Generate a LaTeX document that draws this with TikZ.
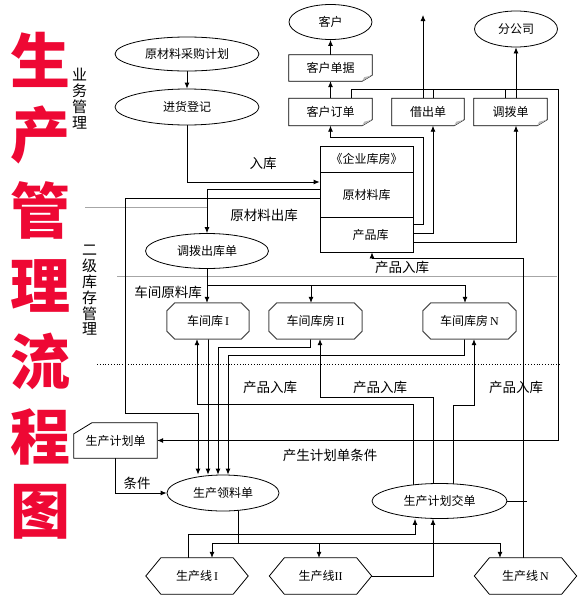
\documentclass[tikz,border=0pt]{standalone}
\usepackage{fontspec}
\newfontfamily\cjk{Noto Sans CJK SC}
\newfontfamily\romfont{Liberation Serif}
\usetikzlibrary{shapes.geometric,arrows.meta}
\pgfdeclarelayer{bg}
\pgfdeclarelayer{shp}
\pgfsetlayers{bg,shp,main}
\definecolor{titlered}{RGB}{238,8,52}
\newcommand{\rn}[1]{{\romfont #1}}
\tikzset{
  oval/.style={ellipse, draw, fill=white, line width=0.8pt, inner sep=0pt, font=\cjk\fontsize{12}{14}\selectfont},
  plain/.style={inner sep=0pt, font=\cjk\fontsize{12}{14}\selectfont},
  docbox/.style={plain, minimum width=#1, minimum height=27},
  kubox/.style={plain, minimum width=#1, minimum height=36},
  hexbox/.style={plain, minimum width=102, minimum height=36},
  lbl/.style={inner sep=0pt, font=\cjk\fontsize{13.5}{15}\selectfont},
  side/.style={inner sep=0pt, align=center, font=\cjk\fontsize{15}{15.8}\selectfont},
  title/.style={inner sep=0pt, text=titlered, font=\cjk\bfseries\fontsize{60}{60}\selectfont},
  conn/.style={line width=0.8pt},
  sepline/.style={line width=0.6pt, gray!70},
  >={Latex[length=6pt,width=5pt]}
}
\begin{document}
\begin{tikzpicture}[x=1pt,y=-1pt]
\useasboundingbox (0,0) rectangle (586,603);
% title and side labels
\foreach \tch [count=\i from 0] in {生,产,管,理,流,程,图}
  \node[title] (t\i) at (40,60+75.3*\i) {\tch};
\node[side] (sideA) at (79.5,98.5) {业\\务\\管\\理};
\node[side] (sideB) at (89.5,290.5) {二\\级\\库\\存\\管\\理};
% top part
\node[oval, minimum width=144, minimum height=34] (yclcg) at (187,54) {原材料采购计划};
\node[oval, minimum width=144, minimum height=36] (jhdj) at (187,107) {进货登记};
\node[oval, minimum width=83, minimum height=35] (kehu) at (330.5,22) {客户};
\node[oval, minimum width=83, minimum height=36] (fengs) at (516,29) {分公司};
\node[docbox=83, minimum height=26] (khdj) at (330.5,68) {客户单据};
\node[docbox=83] (khdd) at (330.5,112) {客户订单};
\node[docbox=72] (jcd) at (428,112) {借出单};
\node[docbox=73] (dbd) at (510.5,112) {调拨单};
% warehouse
\node[plain, draw, fill=white, line width=0.8pt, minimum width=93, minimum height=26] (kuTop) at (366.5,159) {《企业库房》};
\node[plain, draw, fill=white, line width=0.8pt, minimum width=93, minimum height=45] (kuRaw) at (366.5,194.5) {原材料库};
\node[plain, draw, fill=white, line width=0.8pt, minimum width=93, minimum height=35] (kuProd) at (366.5,234.5) {\hspace*{8pt}产品库};
\node[oval, minimum width=123, minimum height=35] (dbck) at (207,251) {调拨出库单};
% workshop stores
\node[kubox=82] (cjI) at (208,321) {车间库\,\rn{I}};
\node[kubox=93] (cjII) at (315.5,321) {车间库房\,\rn{II}};
\node[kubox=93] (cjN) at (469.5,321) {车间库房\,\rn{N}};
% production
\node[plain, minimum width=83, minimum height=35] (scjh) at (115.5,440.5) {生产计划单};
\node[oval, minimum width=112, minimum height=36] (scll) at (223,493) {生产领料单};
\node[oval, minimum width=135, minimum height=35] (scjhj) at (439.5,501) {生产计划交单};
\node[hexbox] (scxI) at (197,576) {生产线\,\rn{I}};
\node[hexbox] (scxII) at (320.5,576) {生产线\rn{II}};
\node[hexbox] (scxN) at (525.5,576) {生产线\,\rn{N}};
% labels
\node[lbl] (lRuku) at (263,163) {入库};
\node[lbl] (lYlck) at (264,215) {原材料出库};
\node[lbl] (lCjyl) at (168,292) {车间原料库};
\node[lbl] (lCprk) at (402,267) {产品入库};
\node[lbl] (lRkI) at (270,387) {产品入库};
\node[lbl] (lRkII) at (380,387) {产品入库};
\node[lbl] (lRkN) at (516,387) {产品入库};
\node[lbl] (lScjh) at (330,455) {产生计划单条件};
\node[lbl] (lTj) at (137,483) {条件};
\coordinate (jcdUp) at (423,15);

\begin{pgfonlayer}{shp}
\foreach \n in {khdj,khdd,jcd,dbd} {
  \draw[fill=white, line width=0.8pt] (\n.north west) -- (\n.north east) -- ([yshift=6pt]\n.south east) -- ([xshift=-10pt]\n.south east) -- (\n.south west) -- cycle;
  \fill[gray!55] ([xshift=-10pt]\n.south east) -- ([yshift=6pt]\n.south east) -- ([xshift=-8pt,yshift=4pt]\n.south east) -- cycle;
}
\foreach \n in {cjI,cjII,cjN}
  \draw[fill=white, draw=black!70, line width=1pt] ([xshift=8pt]\n.north west) -- ([xshift=-8pt]\n.north east) -- ([yshift=-8pt]\n.north east) -- ([yshift=8pt]\n.south east) -- ([xshift=-8pt]\n.south east) -- ([xshift=8pt]\n.south west) -- ([yshift=8pt]\n.south west) -- ([yshift=-8pt]\n.north west) -- cycle;
\foreach \n in {scxI,scxII,scxN}
  \draw[fill=white, line width=0.8pt] (\n.west) -- ([xshift=15pt]\n.north west) -- ([xshift=-15pt]\n.north east) -- (\n.east) -- ([xshift=-15pt]\n.south east) -- ([xshift=15pt]\n.south west) -- cycle;
\draw[fill=white, line width=0.8pt] ([yshift=-11pt]scjh.north west) -- ([xshift=18pt]scjh.north west) -- (scjh.north east) -- (scjh.south east) -- (scjh.south west) -- cycle;
\end{pgfonlayer}

\begin{pgfonlayer}{bg}
% separators
\draw[sepline] (85,207) -- (207,207);
\draw[sepline] (117,276) -- (557,276);
\draw[dotted, line width=0.8pt] (97,364) -- (560,364);
% purchase and warehouse
\draw[conn,->] (yclcg) -- (jhdj);
\draw[conn,->] (jhdj.south) |- ([yshift=12.5pt]kuRaw.west);
\draw[conn,->] ([yshift=5.5pt]kuRaw.west) -| (dbck.north);
\draw[conn,->] ([yshift=-3.5pt]kuRaw.west) -| (125,413) -| (198,413 |- scll.north);
\draw[conn,->] ([yshift=10pt]kuProd.east) -| (423,137) -| (khdd.south);
\draw[conn,->] ([yshift=1.5pt]kuProd.east) -| ([xshift=5pt]jcd.south);
\draw[conn,->] ([yshift=-8pt]kuProd.east) -| ([xshift=5.5pt]dbd.south);
\draw[conn,->] (khdd) -- (khdj);
\draw[conn,->] (khdj) -- (kehu);
\draw[conn,->] ([xshift=-5pt]jcd.north) -- (jcdUp);
\draw[conn,->] ([xshift=5.5pt]dbd.north) -- (fengs.south);
\draw[conn,->] ([xshift=20.5pt]khdd.north) |- (558,89) |- (scjh.east);
\draw[conn] ([xshift=5pt]jcd.north) -- (433,89);
\draw[conn] ([xshift=-5.5pt]dbd.north) -- (505,89);
\draw[conn,->] (scjh.south) |- (scll.west);
% workshop stores
\draw[conn,->] (dbck.center) -- (dbck.center |- cjI.north);
\draw[conn,->] (207,285) -| ([xshift=-4.5pt]cjN.north);
\draw[conn,->] (311,285) -- (311,285 |- cjII.north);
\draw[conn,->] (cjI.center) -- (cjI.center |- scll.north);
\draw[conn,->] ([xshift=-5.5pt]cjII.south) |- (218,347) -- (218,347 |- scll.north);
\draw[conn,->] ([xshift=-5.5pt]cjN.south) |- (228,355) -- (228,355 |- scll.north);
\draw[conn,->] ([xshift=-26.5pt]scjhj.center) |- (197,404) -- (197,404 |- cjI.south);
\draw[conn,->] ([xshift=-6.5pt]scjhj.center) |- (320,397) -- (320,397 |- cjII.south);
\draw[conn,->] ([xshift=13.5pt]scjhj.center) |- (474,405) -- (474,405 |- cjN.south);
% production lines
\draw[conn] ([xshift=15pt]scll.center) -- (238,543);
\draw[conn,->] (212,543) -- (212,543 |- scxI.north);
\draw[conn,->] (212,543) -| (500,543 |- scxN.north);
\draw[conn,->] (319,543) -- (319,543 |- scxII.north);
\draw[conn,->] ([xshift=-9pt]scxI.center) |- (415,534) -- (415,534 |- scjhj.south);
\draw[conn,->] (scxII.center) -| ([xshift=-6.5pt]scjhj.south);
\draw[conn,->] ([xshift=-2.5pt]scxN.center) |- (372,258) -- (372,258 |- kuProd.south);
\draw[conn] (scjhj.center) -- (527,501);
\end{pgfonlayer}
\end{tikzpicture}
\end{document}
